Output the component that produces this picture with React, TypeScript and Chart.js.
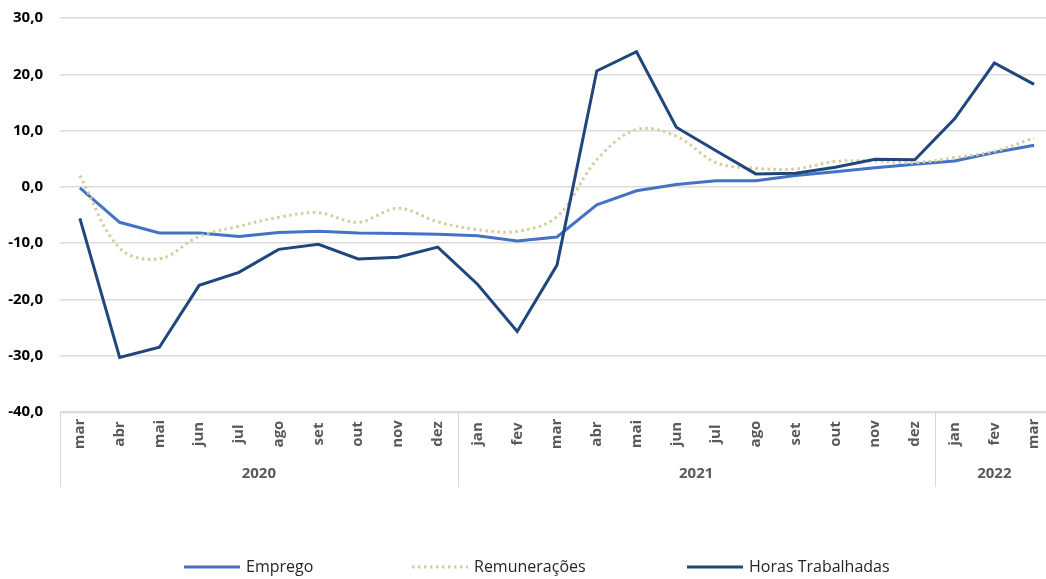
import React, { useEffect, useRef } from "react";
import { Chart, registerables } from "chart.js";

Chart.register(...registerables);

const months = ["mar","abr","mai","jun","jul","ago","set","out","nov","dez","jan","fev","mar","abr","mai","jun","jul","ago","set","out","nov","dez","jan","fev","mar"];
const yearLabels = ["2020", "2021", "2022"];
const yearSpans = [10, 12, 3];

const emprego = [-0.2, -6.3, -8.2, -8.2, -8.8, -8.1, -7.9, -8.2, -8.3, -8.4, -8.7, -9.6, -8.9, -3.2, -0.7, 0.4, 1.1, 1.1, 2.0, 2.7, 3.4, 4.0, 4.6, 6.1, 7.4];
const remuneracoes = [2.0, -10.9, -12.8, -8.8, -7.0, -5.4, -4.6, -6.3, -3.8, -6.2, -7.6, -7.9, -5.3, 4.8, 10.2, 9.0, 4.3, 3.3, 3.2, 4.5, 4.6, 4.3, 5.2, 6.3, 8.7];
const horas = [-5.6, -30.3, -28.5, -17.5, -15.2, -11.1, -10.2, -12.8, -12.5, -10.7, -17.3, -25.7, -13.9, 20.6, 24.0, 10.6, 6.4, 2.3, 2.4, 3.5, 4.9, 4.8, 12.1, 22.0, 18.2];

const seriesNames = ["Emprego", "Remunerações", "Horas Trabalhadas"];
const FONT = "'Open Sans', Lato, sans-serif";
const MONTH_FONT = "'Liberation Sans Narrow', 'Open Sans', sans-serif";

const axisPlugin = {
  id: "customAxis",
  afterDraw(chart: any) {
    const ctx = chart.ctx;
    const area = chart.chartArea;
    const xs = chart.scales.x;
    const step = xs.getPixelForValue(1) - xs.getPixelForValue(0);
    ctx.save();
    ctx.strokeStyle = "#D9D9D9";
    ctx.lineWidth = 1.5;
    ctx.beginPath();
    ctx.moveTo(area.left, area.bottom + 0.5);
    ctx.lineTo(area.right, area.bottom + 0.5);
    ctx.stroke();
    ctx.lineWidth = 1;
    let idx = 0;
    const sepBottom = area.bottom + 75;
    const drawSep = (x: number) => {
      ctx.beginPath();
      ctx.moveTo(Math.round(x) + 0.5, area.bottom);
      ctx.lineTo(Math.round(x) + 0.5, sepBottom);
      ctx.stroke();
    };
    drawSep(xs.getPixelForValue(0) - step / 2);
    yearSpans.forEach((span, i) => {
      const start = xs.getPixelForValue(idx) - step / 2;
      const end = xs.getPixelForValue(idx + span - 1) + step / 2;
      if (i < yearSpans.length - 1) drawSep(end);
      ctx.fillStyle = "#595959";
      ctx.font = "bold 15px " + FONT;
      ctx.textAlign = "center";
      ctx.textBaseline = "middle";
      ctx.fillText(yearLabels[i], (start + end) / 2, area.bottom + 62);
      idx += span;
    });
    ctx.font = "bold 15px " + MONTH_FONT;
    ctx.fillStyle = "#595959";
    months.forEach((m, i) => {
      const x = xs.getPixelForValue(i);
      ctx.save();
      ctx.translate(x, area.bottom + 22);
      ctx.rotate(-Math.PI / 2);
      ctx.textAlign = "center";
      ctx.textBaseline = "middle";
      ctx.fillText(m, 0, 0);
      ctx.restore();
    });
    const legendX = [184, 412, 687];
    const ly = 567;
    chart.data.datasets.forEach((ds: any, i: number) => {
      const x0 = legendX[i];
      ctx.save();
      ctx.strokeStyle = ds.borderColor;
      ctx.lineWidth = ds.borderWidth;
      ctx.setLineDash(ds.borderDash || []);
      ctx.beginPath();
      ctx.moveTo(x0, ly);
      ctx.lineTo(x0 + 56, ly);
      ctx.stroke();
      ctx.restore();
      ctx.fillStyle = "#262626";
      ctx.font = "16px " + FONT;
      ctx.textAlign = "left";
      ctx.textBaseline = "middle";
      ctx.fillText(seriesNames[i], x0 + 62, ly);
    });
    ctx.restore();
  },
};

export default function App() {
  const ref = useRef<HTMLCanvasElement>(null);
  useEffect(() => {
    if (!ref.current) return;
    const chart = new Chart(ref.current, {
      type: "line",
      data: {
        labels: months,
        datasets: [
          {
            label: seriesNames[0],
            data: emprego,
            borderColor: "#4472C4",
            borderWidth: 3,
            pointRadius: 0,
            tension: 0,
            order: 2,
          },
          {
            label: seriesNames[1],
            data: remuneracoes,
            borderColor: "#D3CD9C",
            borderWidth: 3,
            borderDash: [2.5, 3.5],
            pointRadius: 0,
            tension: 0.35,
            order: 1,
          },
          {
            label: seriesNames[2],
            data: horas,
            borderColor: "#1F477D",
            borderWidth: 3,
            pointRadius: 0,
            tension: 0,
            order: 0,
          },
        ],
      },
      options: {
        responsive: false,
        animation: false,
        layout: { padding: { top: 18, bottom: 167, left: 0, right: 0 } },
        plugins: { legend: { display: false }, tooltip: { enabled: false } },
        scales: {
          x: {
            type: "category",
            offset: true,
            display: false,
          },
          y: {
            min: -40,
            max: 30,
            afterFit: (s: any) => {
              s.width = 60;
              s.paddingTop = 0;
              s.paddingBottom = 0;
            },
            ticks: {
              stepSize: 10,
              padding: 17,
              color: "#000000",
              font: { family: FONT, size: 15, weight: "bold" },
              callback: (v: any) => Number(v).toFixed(1).replace(".", ","),
            },
            grid: { color: "#DCDCDC", lineWidth: 1.5, drawTicks: false },
            border: { display: false },
          },
        },
      },
      plugins: [axisPlugin],
    });
    return () => chart.destroy();
  }, []);
  return (
    <div style={{ position: "absolute", left: 0, top: 0, width: 1046, height: 579, overflow: "hidden" }}>
      <canvas ref={ref} width={1054} height={579} style={{ width: 1054, height: 579, display: "block" }} />
    </div>
  );
}
